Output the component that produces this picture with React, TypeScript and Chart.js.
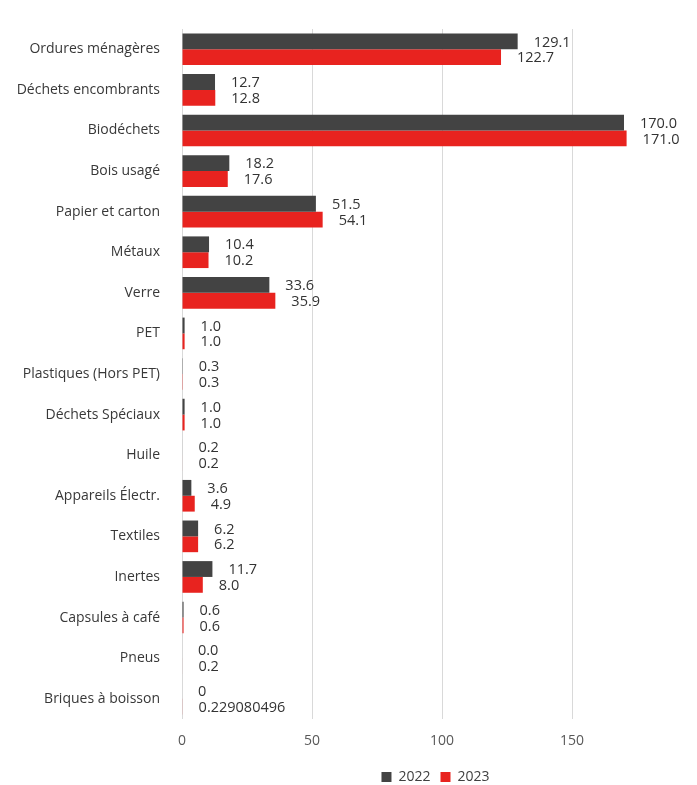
import React, { useEffect, useRef } from "react";
import { Chart, registerables } from "chart.js";

Chart.register(...registerables);

const categories = [
  "Ordures ménagères",
  "Déchets encombrants",
  "Biodéchets",
  "Bois usagé",
  "Papier et carton",
  "Métaux",
  "Verre",
  "PET",
  "Plastiques (Hors PET)",
  "Déchets Spéciaux",
  "Huile",
  "Appareils Électr.",
  "Textiles",
  "Inertes",
  "Capsules à café",
  "Pneus",
  "Briques à boisson",
];

const values2022 = [129.1, 12.7, 170.0, 18.2, 51.5, 10.4, 33.6, 1.0, 0.3, 1.0, 0.2, 3.6, 6.2, 11.7, 0.6, 0.0, 0];
const values2023 = [122.7, 12.8, 171.0, 17.6, 54.1, 10.2, 35.9, 1.0, 0.3, 1.0, 0.2, 4.9, 6.2, 8.0, 0.6, 0.2, 0.229080496];

// rows whose labels are printed unformatted
const rawLabelRows = ["Briques à boisson"];

const seriesNames = ["2022", "2023"];
const xTickValues = [0, 50, 100, 150];

const FONT = "'Open Sans', sans-serif";

const labelPlugin = {
  id: "barLabels",
  afterDatasetsDraw(chart: any) {
    const ctx = chart.ctx;
    ctx.save();
    ctx.font = `14.5px ${FONT}`;
    ctx.fillStyle = "#333333";
    ctx.textAlign = "left";
    ctx.textBaseline = "middle";
    chart.data.datasets.forEach((ds: any, di: number) => {
      const meta = chart.getDatasetMeta(di);
      meta.data.forEach((el: any, i: number) => {
        const v = ds.data[i];
        const cat = chart.data.labels[i];
        const txt = rawLabelRows.includes(cat) ? String(v) : v.toFixed(1);
        ctx.fillText(txt, el.x + 16, el.y + 1);
      });
    });
    ctx.restore();
  },
};

export default function App() {
  const ref = useRef<HTMLCanvasElement>(null);
  useEffect(() => {
    const chart = new Chart(ref.current!, {
      type: "bar",
      data: {
        labels: categories,
        datasets: [
          { label: seriesNames[0], data: values2022, backgroundColor: "#434343" },
          { label: seriesNames[1], data: values2023, backgroundColor: "#e8231f" },
        ],
      },
      options: {
        indexAxis: "y",
        animation: false,
        responsive: true,
        maintainAspectRatio: false,
        layout: { padding: { top: 29, right: 8, left: 0, bottom: -9 } },
        datasets: {
          bar: { categoryPercentage: 0.78, barPercentage: 1 },
        },
        scales: {
          x: {
            min: 0,
            max: 195,
            afterBuildTicks: (scale: any) => {
              scale.ticks = xTickValues.map((v) => ({ value: v }));
            },
            afterFit: (scale: any) => {
              scale.height = 41;
            },
            grid: { color: "#d9d9d9", drawTicks: false },
            border: { display: false },
            ticks: {
              color: "#595959",
              font: { size: 14, family: FONT },
              padding: 14,
            },
          },
          y: {
            afterFit: (scale: any) => {
              scale.width = 182;
            },
            grid: { display: false },
            border: { display: false },
            ticks: {
              color: "#383838",
              font: { size: 14, family: FONT },
              padding: 14,
            },
          },
        },
        plugins: {
          legend: {
            position: "bottom",
            fullSize: false,
            labels: {
              boxWidth: 10,
              boxHeight: 10,
              color: "#404040",
              font: { size: 14, family: FONT },
              padding: 10,
            },
          },
          tooltip: { enabled: false },
        },
      },
      plugins: [labelPlugin],
    });
    return () => chart.destroy();
  }, []);
  return (
    <div style={{ position: "fixed", left: 0, top: 0, width: 697, height: 785, background: "#fff" }}>
      <canvas ref={ref} />
    </div>
  );
}
